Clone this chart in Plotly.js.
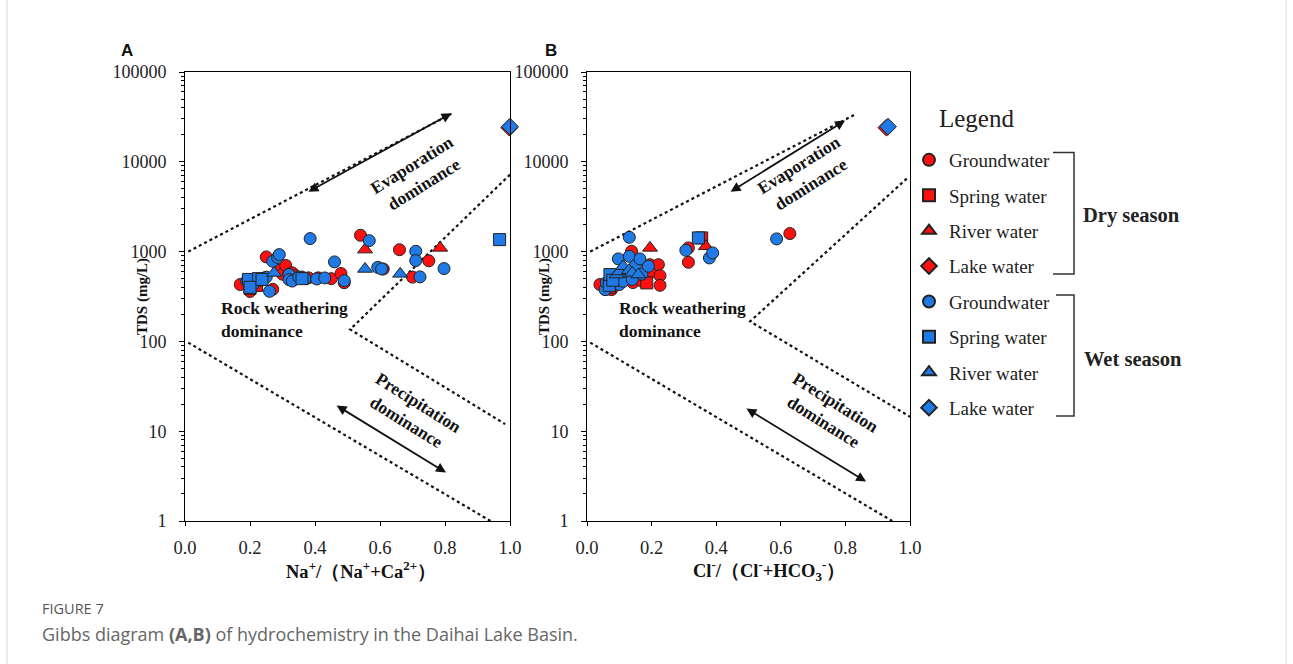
<!DOCTYPE html>
<html>
<head>
<meta charset="utf-8">
<script src="https://cdn.plot.ly/plotly-3.0.1.min.js"></script>
<style>
html,body{margin:0;padding:0;background:#fff;}
#chart{width:1293px;height:664px;}
</style>
</head>
<body>
<div id="chart"></div>
<script>
// ---------- Data: panel A, x = Na+/(Na+ + Ca2+), y = TDS (mg/L) ----------
const A_dryGround_x = [0.17,0.20,0.23,0.25,0.27,0.29,0.30,0.31,0.32,0.33,0.34,0.36,0.38,0.41,0.45,0.48,0.49,0.54,0.61,0.66,0.70,0.75];
const A_dryGround_y = [430,360,470,873,380,620,560,700,560,580,540,520,510,510,500,570,450,1520,640,1050,520,790];
const A_drySpring_x = [0.20,0.22];
const A_drySpring_y = [390,420];
const A_dryRiver_x = [0.554,0.785];
const A_dryRiver_y = [1052,1100];
const A_dryLake_x = [0.998];
const A_dryLake_y = [24000];
const A_wetGround_x = [0.19,0.21,0.23,0.24,0.25,0.26,0.27,0.285,0.29,0.32,0.32,0.33,0.35,0.37,0.385,0.405,0.43,0.46,0.49,0.567,0.593,0.605,0.71,0.71,0.723,0.797];
const A_wetGround_y = [470,430,480,500,520,361,780,860,926,555,488,470,520,500,1396,496,509,768,475,1325,668,641,1008,794,523,647];
const A_wetSpring_x = [0.195,0.226,0.20,0.237,0.36,0.968];
const A_wetSpring_y = [490,500,400,490,500,1360];
const A_wetRiver_x = [0.274,0.554,0.662];
const A_wetRiver_y = [579,641,565];
const A_wetLake_x = [1.0];
const A_wetLake_y = [24600];

// ---------- Data: panel B, x = Cl-/(Cl- + HCO3-), y = TDS (mg/L) ----------
const B_dryGround_x = [0.04,0.06,0.076,0.10,0.12,0.138,0.142,0.15,0.17,0.195,0.20,0.221,0.226,0.226,0.314,0.314,0.628];
const B_dryGround_y = [430,380,377,470,520,1008,452,560,470,715,600,715,540,421,1100,760,1587];
const B_drySpring_x = [0.07,0.185,0.355];
const B_drySpring_y = [400,448,1420];
const B_dryRiver_x = [0.14,0.195,0.368];
const B_dryRiver_y = [560,1100,1145];
const B_dryLake_x = [0.927];
const B_dryLake_y = [24000];
const B_wetGround_x = [0.056,0.06,0.08,0.097,0.10,0.112,0.12,0.131,0.131,0.14,0.15,0.164,0.17,0.19,0.306,0.379,0.389,0.587];
const B_wetGround_y = [377,450,520,829,430,467,600,1443,887,490,700,829,560,687,1034,850,967,1385];
const B_wetSpring_x = [0.069,0.071,0.08,0.345];
const B_wetSpring_y = [421,555,480,1420];
const B_wetRiver_x = [0.092,0.10,0.112,0.13,0.14,0.159];
const B_wetRiver_y = [555,600,687,620,580,555];
const B_wetLake_x = [0.932];
const B_wetLake_y = [24600];

// ---------- Gibbs boundary lines ----------
const A_upper_x = [0.01,0.825];
const A_upper_y = [1000,35000];
const A_inner_x = [1.0,0.508,0.985];
const A_inner_y = [7200,136,12];
const A_lower_x = [0.01,0.94];
const A_lower_y = [97,1];
const B_upper_x = [0.01,0.83];
const B_upper_y = [1000,33600];
const B_inner_x = [0.99,0.505,1.0];
const B_inner_y = [6500,167,14.5];
const B_lower_x = [0.01,0.945];
const B_lower_y = [97,1];

// ---------- Legend / tick labels ----------
const typeNames = ['Groundwater','Spring water','River water','Lake water'];
const symbols = ['circle','square','triangle-up','diamond'];
const sizes = [12,12,13,13];
const seasonLabels = ['Dry season','Wet season'];
const xTickVals = [0,0.2,0.4,0.6,0.8,1.0];
const yTickVals = [1,10,100,1000,10000,100000];

const RED = '#ff1010';
const BLUE = '#1f7ae6';
const SERIF = 'Liberation Serif, Times New Roman, serif';

const A_sets = [
  [A_dryGround_x,A_dryGround_y],[A_drySpring_x,A_drySpring_y],[A_dryRiver_x,A_dryRiver_y],[A_dryLake_x,A_dryLake_y],
  [A_wetGround_x,A_wetGround_y],[A_wetSpring_x,A_wetSpring_y],[A_wetRiver_x,A_wetRiver_y],[A_wetLake_x,A_wetLake_y]
];
const B_sets = [
  [B_dryGround_x,B_dryGround_y],[B_drySpring_x,B_drySpring_y],[B_dryRiver_x,B_dryRiver_y],[B_dryLake_x,B_dryLake_y],
  [B_wetGround_x,B_wetGround_y],[B_wetSpring_x,B_wetSpring_y],[B_wetRiver_x,B_wetRiver_y],[B_wetLake_x,B_wetLake_y]
];

const traces = [];
function boundary(x,y,xa,ya){
  traces.push({x:x,y:y,xaxis:xa,yaxis:ya,mode:'lines',showlegend:false,hoverinfo:'skip',
    line:{color:'#111',width:2.2,dash:'dot'}});
}
boundary(A_upper_x,A_upper_y,'x','y');
boundary(A_inner_x,A_inner_y,'x','y');
boundary(A_lower_x,A_lower_y,'x','y');
boundary(B_upper_x,B_upper_y,'x2','y2');
boundary(B_inner_x,B_inner_y,'x2','y2');
boundary(B_lower_x,B_lower_y,'x2','y2');

function addSets(sets,xa,ya,showLeg){
  sets.forEach((s,i)=>{
    const season = i<4 ? 0 : 1;
    const t = i%4;
    traces.push({
      x:s[0], y:s[1], xaxis:xa, yaxis:ya, mode:'markers', type:'scatter', cliponaxis:false,
      name:typeNames[t], legendgroup:'g'+i, showlegend:showLeg,
      hovertemplate: seasonLabels[season]+' '+typeNames[t]+': %{x}, %{y}<extra></extra>',
      marker:{symbol:symbols[t], size:sizes[t], color: season===0?RED:BLUE,
        line:{color:'#222',width:1}}
    });
  });
}
addSets(A_sets,'x','y',true);
addSets(B_sets,'x2','y2',false);

const W=1293,H=664;
const px = v => v/W;
const py = v => 1 - v/H;

function xAxis(domain){
  return {domain:domain, range:[0,1], tickvals:xTickVals, tickformat:'.1f',
    ticks:'outside', ticklen:4, tickcolor:'#000', showline:true, linecolor:'#000', linewidth:1,
    mirror:true, showgrid:false, zeroline:false, fixedrange:true,
    tickfont:{family:SERIF,size:18.5,color:'#222'}, ticklabelstandoff:6};
}
function yAxis(domain,anchor){
  return {domain:domain, type:'log', range:[0,5], tickvals:yTickVals, ticktext:yTickVals.map(String),
    ticks:'outside', ticklen:5, tickcolor:'#000', showline:true, linecolor:'#000', linewidth:1,
    mirror:true, showgrid:false, zeroline:false, anchor:anchor, fixedrange:true,
    minor:{ticks:'outside', ticklen:3, tickcolor:'#000', dtick:'D1', showgrid:false},
    tickfont:{family:SERIF,size:18,color:'#222'}, ticklabelstandoff:9};
}

const annFont = {family:SERIF,size:17.5,color:'#111'};
function textAnn(xref,yref,x,y,text,angle,extra){
  return Object.assign({xref:xref,yref:yref,x:x,y:y,text:text,showarrow:false,textangle:angle,
    font:annFont,align:'center',xanchor:'center',yanchor:'middle'},extra||{});
}
function arrowAnn(xref,yref,x0,y0,x1,y1){
  return {xref:xref,yref:yref,axref:xref,ayref:yref,x:x1,y:y1,ax:x0,ay:y0,text:'',showarrow:true,
    arrowhead:2,startarrowhead:2,arrowside:'end+start',arrowsize:1.1,startarrowsize:1.1,arrowwidth:1.8,arrowcolor:'#111'};
}
function paperAnn(x,y,text,font,extra){
  return Object.assign({xref:'paper',yref:'paper',x:px(x),y:py(y),text:text,showarrow:false,
    xanchor:'center',yanchor:'middle',font:font},extra||{});
}

const annotations = [
  // panel labels
  paperAnn(127,50,'<b>A</b>',{family:'Liberation Sans, Arial, sans-serif',size:17,color:'#111'}),
  paperAnn(551,50,'<b>B</b>',{family:'Liberation Sans, Arial, sans-serif',size:17,color:'#111'}),
  // y titles
  paperAnn(142,297,'<b>TDS (mg/L)</b>',{family:SERIF,size:15,color:'#111'},{textangle:-90}),
  paperAnn(544,297,'<b>TDS (mg/L)</b>',{family:SERIF,size:15,color:'#111'},{textangle:-90}),
  // x titles
  paperAnn(361,570,'<b>Na<sup>+</sup>/（Na<sup>+</sup>+Ca<sup>2+</sup>）</b>',{family:SERIF,size:18.5,color:'#111'}),
  paperAnn(769,570,'<b>Cl<sup>-</sup>/（Cl<sup>-</sup>+HCO<sub>3</sub><sup>-</sup>）</b>',{family:SERIF,size:18.5,color:'#111'}),
  // region labels A
  textAnn('x','y',0.717,3.86,'<b>Evaporation<br>dominance</b>',-32),
  textAnn('x','y',0.70,1.21,'<b>Precipitation<br>dominance</b>',32),
  textAnn('x','y',0.105,2.243,'<b>Rock weathering<br>dominance</b>',0,{xanchor:'left',align:'left'}),
  // region labels B
  textAnn('x2','y2',0.675,3.86,'<b>Evaporation<br>dominance</b>',-32),
  textAnn('x2','y2',0.752,1.21,'<b>Precipitation<br>dominance</b>',32),
  textAnn('x2','y2',0.093,2.243,'<b>Rock weathering<br>dominance</b>',0,{xanchor:'left',align:'left'}),
  // arrows
  arrowAnn('x','y',0.375,3.657,0.82,4.54),
  arrowAnn('x','y',0.462,1.296,0.803,0.54),
  arrowAnn('x2','y2',0.44,3.657,0.799,4.459),
  arrowAnn('x2','y2',0.489,1.263,0.864,0.439),
  // legend title & season labels
  paperAnn(937,118,'Legend',{family:SERIF,size:25,color:'#222'},{xanchor:'left'}),
  paperAnn(1081,215,'<b>'+seasonLabels[0]+'</b>',{family:SERIF,size:20.5,color:'#222'},{xanchor:'left'}),
  paperAnn(1082,359,'<b>'+seasonLabels[1]+'</b>',{family:SERIF,size:20.5,color:'#222'},{xanchor:'left'}),
  // caption
  paperAnn(40,608,'FIGURE 7',{family:'Open Sans, Noto Sans, sans-serif',size:14.5,color:'#555'},{xanchor:'left'}),
  paperAnn(40,634,'Gibbs diagram <b>(A,B)</b> of hydrochemistry in the Daihai Lake Basin.',{family:'Open Sans, Noto Sans, sans-serif',size:18,color:'#666'},{xanchor:'left'})
];

const bracket = (x0,x1,y0,y1)=>({type:'path',xref:'paper',yref:'paper',
  path:`M ${px(x0)} ${py(y0)} L ${px(x1)} ${py(y0)} L ${px(x1)} ${py(y1)} L ${px(x0)} ${py(y1)}`,
  line:{color:'#333',width:1.5}});

const shapes = [
  bracket(1053,1074,152.5,274),
  bracket(1056,1074,295,416),
  {type:'line',xref:'paper',yref:'paper',x0:px(7),x1:px(7),y0:0,y1:1,line:{color:'#d5d5d5',width:1}},
  {type:'line',xref:'paper',yref:'paper',x0:px(1286),x1:px(1286),y0:0,y1:1,line:{color:'#e0e0e0',width:1}}
];

const layout = {
  width:W, height:H, margin:{l:0,r:0,t:0,b:0}, paper_bgcolor:'#fff', plot_bgcolor:'#fff',
  xaxis: Object.assign(xAxis([px(185),px(510)]),{anchor:'y'}),
  yaxis: yAxis([py(521),py(72)],'x'),
  xaxis2: Object.assign(xAxis([px(587),px(910)]),{anchor:'y2'}),
  yaxis2: yAxis([py(521),py(72)],'x2'),
  showlegend:true,
  legend:{x:px(909),xanchor:'left',y:py(141),yanchor:'top',traceorder:'grouped',tracegroupgap:7.7,
    itemsizing:'constant',bgcolor:'rgba(0,0,0,0)',font:{family:SERIF,size:19,color:'#222'}},
  annotations:annotations, shapes:shapes, hovermode:'closest'
};

Plotly.newPlot('chart',traces,layout,{displayModeBar:false});
</script>
</body>
</html>
